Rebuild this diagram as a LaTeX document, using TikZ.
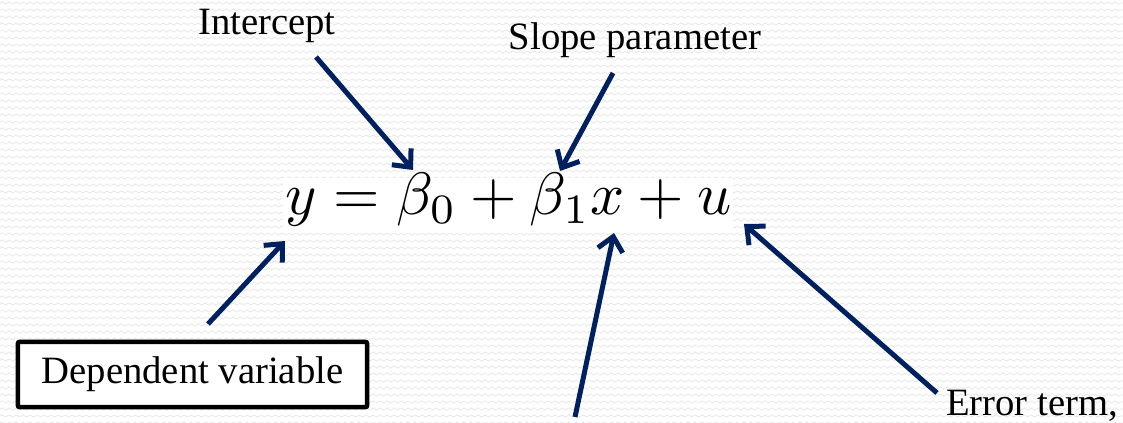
\documentclass[tikz,border=0pt]{standalone}
\usepackage[no-math]{fontspec}
\setmainfont{Liberation Serif}
\usetikzlibrary{arrows.meta,decorations.pathmorphing}
\definecolor{navy}{RGB}{0,32,96}
\begin{document}
\begin{tikzpicture}[x=0.75pt,y=-0.75pt,
  lbl/.style={font=\fontsize{29}{32}\selectfont, inner sep=0pt, anchor=base},
  ptr/.style={draw=navy, line width=3.75pt, -{Straight Barb[length=10.5pt,width=19pt]}},
  bgwave/.style={draw=black!9, line width=0.6pt, decorate,
    decoration={snake, segment length=5.25pt, amplitude=0.8pt}},
  depbox/.style={draw=black, line width=3.4pt, rounded corners=1.5pt, fill=white,
    minimum width=262pt, minimum height=49pt, inner sep=0pt,
    font=\fontsize{29}{32}\selectfont}
]
\useasboundingbox (0,0) rectangle (1123,423);
\fill[white] (0,0) rectangle (1123,423);
\foreach \r in {3,10,...,423} \draw[bgwave] (0,\r) -- (1123,\r);
% equation
\fill[white] (283,178) rectangle (733,233);
\node[inner sep=0pt, anchor=base, font=\normalsize, scale=4.48] (eq) at (508.5,215) {$y=\beta_0+\beta_1x+u$};
% labels
\node[lbl] (icpt) at (267,35) {Intercept};
\node[lbl] (slope) at (635,50) {Slope parameter};
\node[depbox] (dep) at (192.5,374.5) {Dependent variable\hspace{10pt}};
\node[lbl] (err) at (1032,415) {Error term,};
% arrow ends
\coordinate (i1) at (316,57); \coordinate (i2) at (413,170);
\coordinate (s1) at (613,73); \coordinate (s2) at (560,171);
\coordinate (d1) at (208,324); \coordinate (d2) at (285,241);
\coordinate (x1) at (575,417); \coordinate (x2) at (614,233);
\coordinate (e1) at (937,393); \coordinate (e2) at (744,224);
\draw[ptr] (i1) -- (i2);
\draw[ptr] (s1) -- (s2);
\draw[ptr] (d1) -- (d2);
\draw[ptr] (x1) -- (x2);
\draw[ptr] (e1) -- (e2);
\end{tikzpicture}
\end{document}
